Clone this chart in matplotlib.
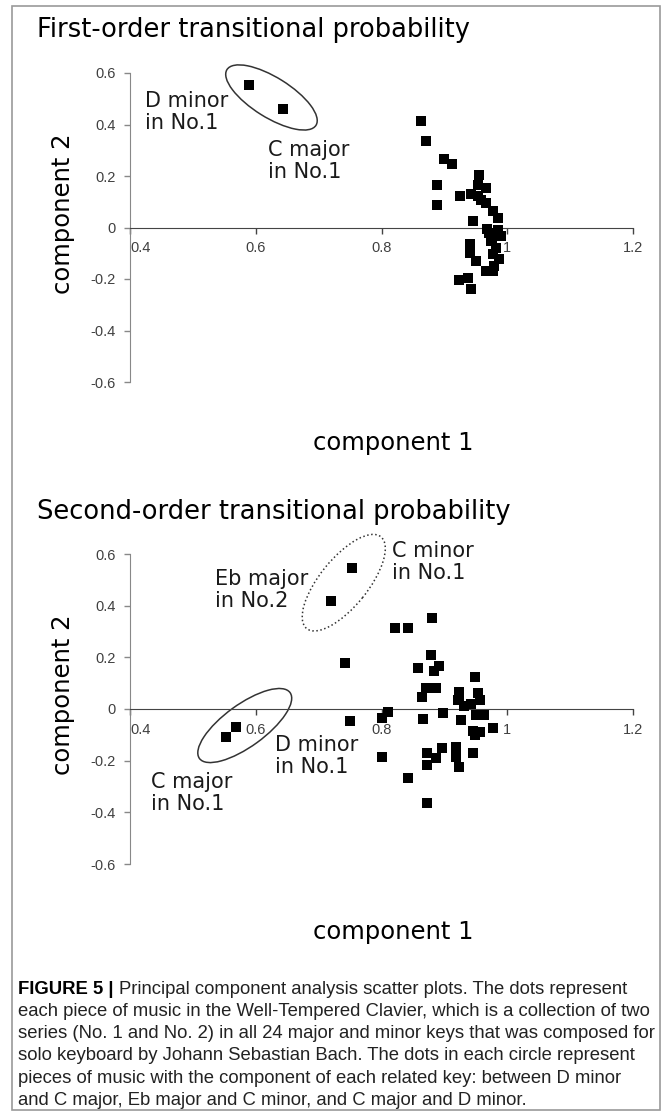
import matplotlib
matplotlib.use("Agg")
import matplotlib.pyplot as plt
from matplotlib.patches import Ellipse, Rectangle
from matplotlib.transforms import ScaledTranslation

# ---- data ----
# first-order transitional probability (component 1, component 2)
first_x = [0.590, 0.644, 0.863, 0.871, 0.900, 0.912, 0.888, 0.888, 0.955, 0.954,
           0.966, 0.925, 0.942, 0.954, 0.958, 0.966, 0.977, 0.985, 0.945, 0.971,
           0.990, 0.974, 0.940, 0.982, 0.940, 0.977, 0.950, 0.987, 0.979, 0.966,
           0.977, 0.924, 0.937, 0.942, 0.968, 0.985, 0.975]
first_y = [0.553, 0.460, 0.414, 0.334, 0.266, 0.248, 0.166, 0.086, 0.205, 0.166,
           0.153, 0.121, 0.131, 0.121, 0.108, 0.095, 0.063, 0.037, 0.024, -0.021,
           -0.034, -0.053, -0.066, -0.079, -0.098, -0.104, -0.130, -0.124, -0.150, -0.169,
           -0.169, -0.204, -0.195, -0.237, -0.005, -0.010, -0.040]

# second-order transitional probability
second_x = [0.753, 0.719, 0.822, 0.842, 0.742, 0.750, 0.801, 0.810, 0.552, 0.568,
            0.801, 0.842, 0.880, 0.879, 0.858, 0.892, 0.883, 0.949, 0.870, 0.887,
            0.864, 0.923, 0.924, 0.953, 0.956, 0.932, 0.942, 0.866, 0.898, 0.926,
            0.950, 0.963, 0.977, 0.945, 0.956, 0.948, 0.873, 0.887, 0.896, 0.873,
            0.918, 0.918, 0.924, 0.946, 0.873, 0.922, 0.953]
second_y = [0.547, 0.418, 0.312, 0.312, 0.180, -0.046, -0.036, -0.010, -0.107, -0.071,
            -0.184, -0.268, 0.351, 0.209, 0.160, 0.166, 0.147, 0.123, 0.082, 0.080,
            0.045, 0.067, 0.035, 0.061, 0.035, 0.012, 0.019, -0.040, -0.017, -0.043,
            -0.023, -0.023, -0.075, -0.084, -0.088, -0.100, -0.171, -0.191, -0.152, -0.217,
            -0.146, -0.185, -0.226, -0.171, -0.362, 0.035, -0.023]

x_ticks = [0.4, 0.6, 0.8, 1.0, 1.2]
x_tick_labels = ["0.4", "0.6", "0.8", "1", "1.2"]
y_ticks = [-0.6, -0.4, -0.2, 0, 0.2, 0.4, 0.6]
y_tick_labels = ["-0.6", "-0.4", "-0.2", "0", "0.2", "0.4", "0.6"]

# annotations: (label, x, y)
first_notes = [("D minor\nin No.1", 0.424, 0.449),
               ("C major\nin No.1", 0.619, 0.259)]
second_notes = [("Eb major\nin No.2", 0.535, 0.460),
                ("C minor\nin No.1", 0.817, 0.569),
                ("D minor\nin No.1", 0.630, -0.182),
                ("C major\nin No.1", 0.433, -0.325)]
# circles: centre (data), width/height in pixels, angle, linestyle
first_rings = [(0.625, 0.505, 105, 40, -32, "-")]
second_rings = [(0.740, 0.489, 118, 48, 51, ":"),
                (0.5825, -0.064, 112, 42, 36, "-")]

caption_head = "FIGURE 5 |"
caption_lines = [
    "Principal component analysis scatter plots. The dots represent",
    "each piece of music in the Well-Tempered Clavier, which is a collection of two",
    "series (No. 1 and No. 2) in all 24 major and minor keys that was composed for",
    "solo keyboard by Johann Sebastian Bach. The dots in each circle represent",
    "pieces of music with the component of each related key: between D minor",
    "and C major, Eb major and C minor, and C major and D minor.",
]

W, H = 672, 1118
fig = plt.figure(figsize=(W / 100, H / 100), dpi=100)
fig.patches.append(Rectangle((12 / W, 1 - 1110 / H), 648 / W, 1104 / H,
                             transform=fig.transFigure, fill=False,
                             ec="#9a9a9a", lw=1.2))


def setup(ax, xs, ys, notes, rings):
    ax.scatter(xs, ys, marker="s", s=44, color="black", zorder=3, lw=0)
    ax.set_xlim(0.4, 1.2)
    ax.set_ylim(-0.6, 0.6)
    ax.spines["top"].set_visible(False)
    ax.spines["right"].set_visible(False)
    ax.spines["bottom"].set_position(("data", 0))
    ax.spines["bottom"].set_color("#444444")
    ax.spines["left"].set_color("#888888")
    ax.set_xticks(x_ticks)
    ax.set_xticklabels(x_tick_labels)
    ax.set_yticks(y_ticks)
    ax.set_yticklabels(y_tick_labels)
    ax.tick_params(axis="x", direction="out", length=4, width=1, colors="#444444",
                   labelcolor="#404040", labelsize=10.5, pad=6)
    ax.tick_params(axis="y", direction="out", length=4, width=1, colors="#888888",
                   labelcolor="#404040", labelsize=10.5, pad=6)
    for t in ax.get_xticklabels() + ax.get_yticklabels():
        t.set_family("Liberation Sans")
    ax.get_xticklabels()[0].set_horizontalalignment("left")
    for label, tx, ty in notes:
        ax.text(tx, ty, label, ha="left", va="center", fontsize=15,
                linespacing=1.15, color="#1a1a1a")
    for cx, cy, w, h, ang, ls in rings:
        tr = fig.dpi_scale_trans + ScaledTranslation(cx, cy, ax.transData)
        ax.add_patch(Ellipse((0, 0), w / 100, h / 100, angle=ang, transform=tr,
                             fill=False, ec="#333333", lw=1.1, ls=ls,
                             clip_on=False))


ax1 = fig.add_axes([130 / W, 1 - 382 / H, 503 / W, 309 / H])
setup(ax1, first_x, first_y, first_notes, first_rings)
ax2 = fig.add_axes([130 / W, 1 - 864 / H, 503 / W, 310 / H])
setup(ax2, second_x, second_y, second_notes, second_rings)

fig.text(37 / W, 1 - 30 / H, "First-order transitional probability",
         ha="left", va="center", fontsize=18.5)
fig.text(37 / W, 1 - 512 / H, "Second-order transitional probability",
         ha="left", va="center", fontsize=18.5)
for yc in (214, 695):
    fig.text(63 / W, 1 - yc / H, "component 2", rotation=90,
             ha="center", va="center", fontsize=17.5)
for yc in (443, 932):
    fig.text(393 / W, 1 - yc / H, "component 1", ha="center", va="center",
             fontsize=17.5)

# caption
cap_top = 989
step = 22.3
cap_size = 13.3
bold = fig.text(18 / W, 1 - cap_top / H, caption_head, ha="left", va="center",
                fontsize=cap_size, fontweight="bold", family="Liberation Sans")
fig.canvas.draw()
bb = bold.get_window_extent()
fig.text((bb.x1 + 5) / W, 1 - cap_top / H, caption_lines[0], ha="left",
         va="center", fontsize=cap_size, family="Liberation Sans", color="#222222")
for i, line in enumerate(caption_lines[1:], start=1):
    fig.text(18 / W, 1 - (cap_top + i * step) / H, line, ha="left", va="center",
             fontsize=cap_size, family="Liberation Sans", color="#222222")

fig.savefig("out.png", dpi=100)
